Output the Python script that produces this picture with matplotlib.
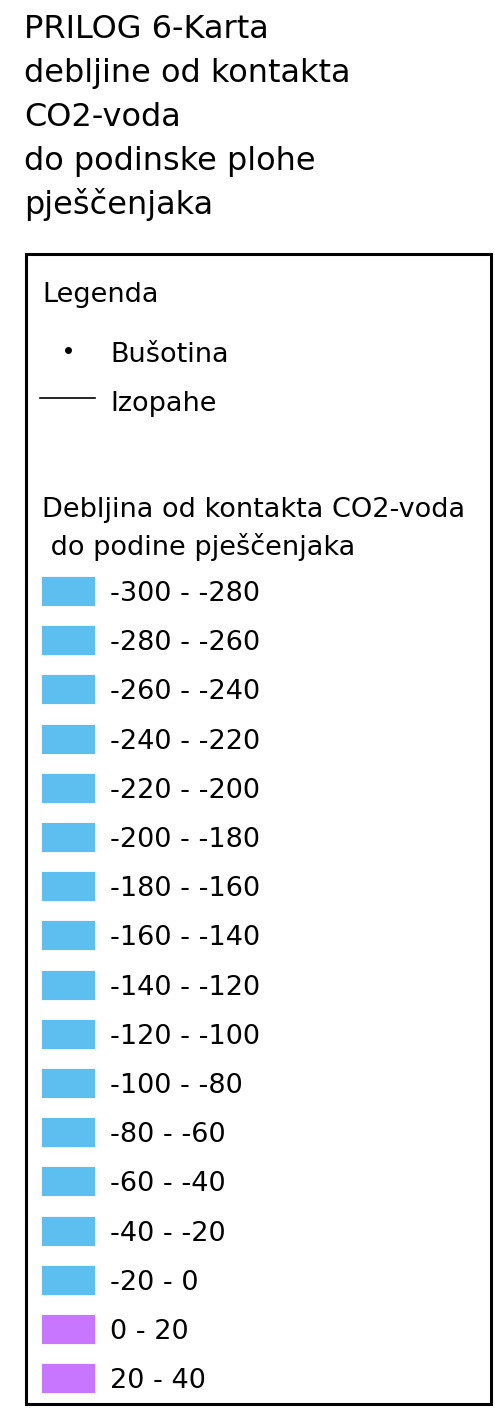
import matplotlib.pyplot as plt
from matplotlib.patches import Rectangle

# data
title_lines = ["PRILOG 6-Karta", "debljine od kontakta", "CO2-voda",
               "do podinske plohe", "pješčenjaka"]
legend_title = "Legenda"
point_label = "Bušotina"
line_label = "Izopahe"
classes_title = ["Debljina od kontakta CO2-voda", " do podine pješčenjaka"]
class_labels = ["-300 - -280", "-280 - -260", "-260 - -240", "-240 - -220",
                "-220 - -200", "-200 - -180", "-180 - -160", "-160 - -140",
                "-140 - -120", "-120 - -100", "-100 - -80", "-80 - -60",
                "-60 - -40", "-40 - -20", "-20 - 0", "0 - 20", "20 - 40"]
class_colors = ["#5dbff0"] * 15 + ["#c876ff"] * 2

W, H = 495, 1408
fig = plt.figure(figsize=(W / 100, H / 100), dpi=100)
ax = fig.add_axes([0, 0, 1, 1])
ax.set_xlim(0, W)
ax.set_ylim(H, 0)
ax.axis("off")

font = "DejaVu Sans"
fs = 19.5

# title
for i, t in enumerate(title_lines):
    ax.text(24, 38 + 44 * i, t, fontsize=23, family=font, va="baseline", ha="left")

# legend frame
ax.add_patch(Rectangle((26, 254), 465, 1150, fill=False, lw=2.2, ec="black"))

ax.text(42, 302, legend_title, fontsize=fs, family=font, va="baseline")
ax.plot([68], [350], "o", color="black", ms=4)
ax.text(110, 362, point_label, fontsize=fs, family=font, va="baseline")
ax.plot([40, 95], [398, 398], color="black", lw=1.2)
ax.text(110, 411, line_label, fontsize=fs, family=font, va="baseline")

ax.text(42, 517, classes_title[0], fontsize=fs, family=font, va="baseline")
ax.text(42, 555, classes_title[1], fontsize=fs, family=font, va="baseline")

for i, (lab, col) in enumerate(zip(class_labels, class_colors)):
    yc = 591 + 49.2 * i
    ax.add_patch(Rectangle((41, yc - 15), 54, 30, fc=col, ec="white", lw=0.6))
    ax.text(110, yc + 10, lab, fontsize=fs, family=font, va="baseline")

fig.savefig("out.png", dpi=100)
